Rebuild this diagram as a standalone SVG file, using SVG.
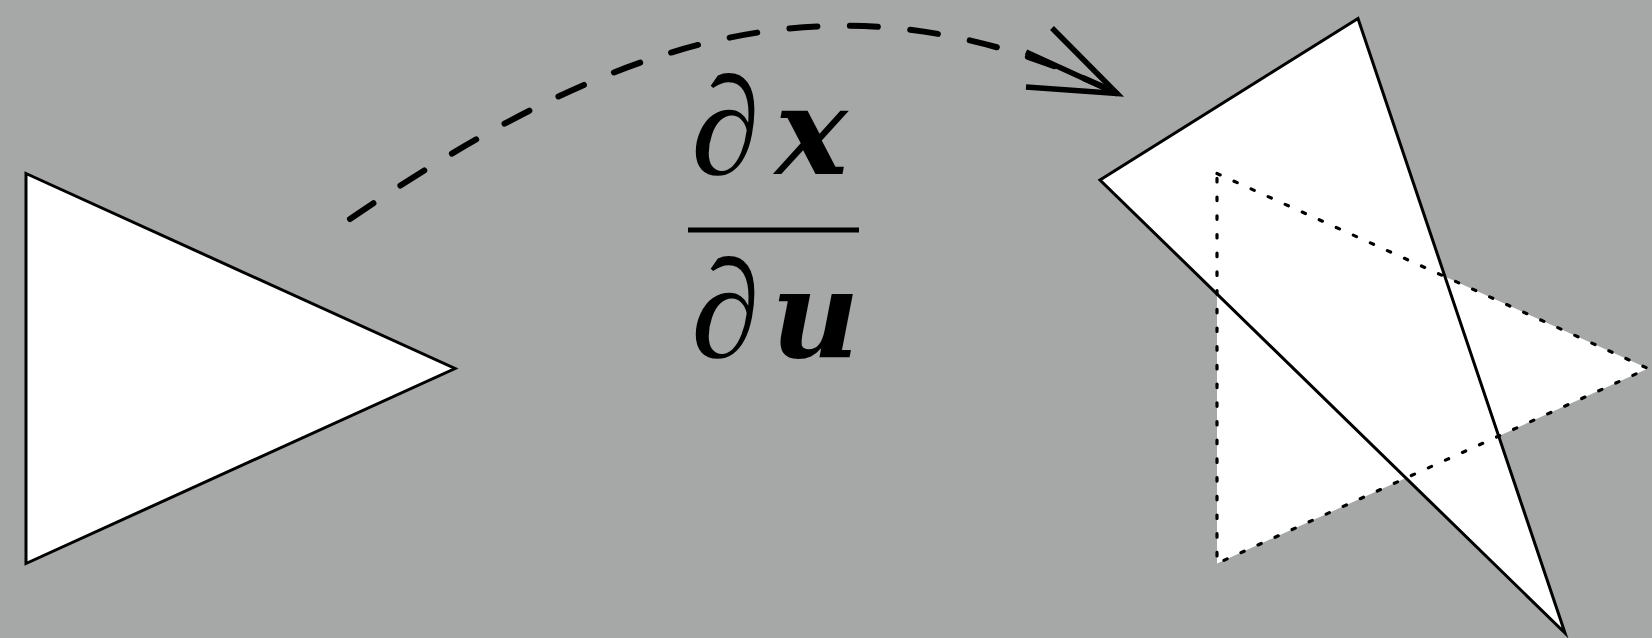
<svg xmlns="http://www.w3.org/2000/svg" width="1652" height="638" viewBox="0 0 1652 638">
  <style>
    .solid { fill: none; stroke: #000; stroke-width: 3; stroke-linejoin: miter; stroke-miterlimit: 12; }
    .dotted { fill: none; stroke: #000; stroke-width: 3.2; stroke-linecap: round; stroke-dasharray: 3.5 15.2; }
    .face { fill: #fff; stroke: none; }
    .arc { fill: none; stroke: #000; stroke-width: 6; stroke-linecap: round; stroke-dasharray: 28 32.5; }
    .head { fill: none; stroke: #000; stroke-width: 5.5; stroke-linejoin: miter; stroke-miterlimit: 10; }
    .math { font-family: "Liberation Serif", "DejaVu Serif", serif; font-size: 140px; fill: #000; }
    .it { font-style: italic; }
    .bi { font-family: "DejaVu Serif", "Liberation Serif", serif; font-size: 122px; font-style: italic; font-weight: bold; }
  </style>
  <rect x="0" y="0" width="1652" height="638" fill="#a5a8a7"/>

  <g id="source-triangle">
    <polygon class="face" points="26,173.5 455,368.5 26,563.5"/>
    <polygon class="solid" points="26,173.5 455,368.5 26,563.5"/>
  </g>

  <g id="target-fills">
    <polygon class="face" points="1358,18.5 1100,180 1565,633"/>
    <polygon class="face" points="1217,173.5 1648,368.5 1217,563.5"/>
  </g>
  <g id="warped-triangle">
    <polygon class="solid" points="1358,18.5 1100,180 1565,633"/>
  </g>
  <g id="reference-triangle">
    <polygon class="dotted" points="1217,173.5 1648,368.5 1217,563.5"/>
  </g>

  <g id="connectors">
    <path class="arc" d="M350,219 C611.3,40.8 837.3,-43.2 1118,94"/>
    <path class="head" d="M1026,52 L1118,94"/>
    <path class="head" d="M1052,28 L1117,93.5 L1026,87"/>
  </g>

  <g id="label">
    <text class="math" y="174"><tspan class="it" x="691">∂</tspan><tspan class="bi" x="775">x</tspan></text>
    <rect x="688" y="227.5" width="171" height="5" fill="#000"/>
    <text class="math" y="357"><tspan class="it" x="691">∂</tspan><tspan class="bi" x="771">u</tspan></text>
  </g>
</svg>
